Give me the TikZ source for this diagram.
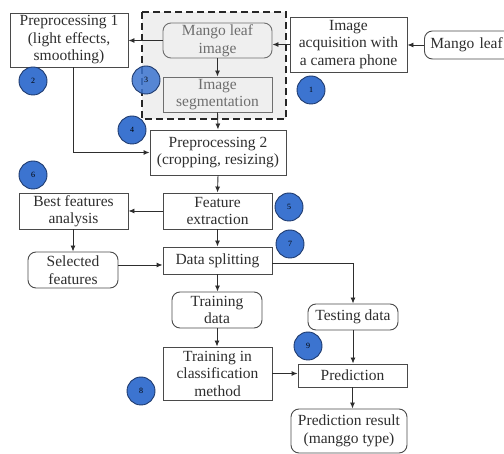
\documentclass[tikz,border=0pt]{standalone}
\usepackage{fontspec}
\setmainfont{Liberation Serif}
\usetikzlibrary{arrows.meta,calc}
\definecolor{ink}{HTML}{2E2E2E}
\definecolor{edge}{HTML}{4A4A4A}
\definecolor{dim}{HTML}{6E6E6E}
\definecolor{bluefill}{HTML}{3C74D0}
\definecolor{blueedge}{HTML}{1E3A6E}
\definecolor{bgfill}{HTML}{EFEFEF}
\tikzset{
  box/.style={draw=edge, line width=0.9pt, text=ink, align=center, inner sep=1pt,
    font=\rmfamily\fontsize{15.5}{17.5}\selectfont},
  rbox/.style={box, rounded corners=8pt},
  gbox/.style={box, draw=dim, text=dim},
  arr/.style={draw=ink, line width=0.9pt, -{Latex[length=6pt,width=5pt]}},
  badge/.style={circle, draw=blueedge, fill=bluefill, line width=0.9pt, minimum size=28pt,
    inner sep=0pt, text=black, font=\rmfamily\fontsize{8}{8}\selectfont}
}
\begin{document}
\begin{tikzpicture}[x=1pt,y=-1pt]
\useasboundingbox (0,0) rectangle (504,454);
% dashed segmentation region
\draw[fill=bgfill, dash pattern=on 7pt off 4pt, line width=1.1pt, draw=black!85] (142,12) rectangle (286,119);
% nodes
\node[box, minimum width=118pt, minimum height=54pt] (pre1) at (69,40) {Preprocessing 1\\(light effects,\\smoothing)};
\node[gbox, rounded corners=8pt, fill=bgfill, minimum width=109pt, minimum height=35pt] (mli) at (217.5,40.5) {Mango leaf\\image};
\node[gbox, fill=bgfill, minimum width=109pt, minimum height=35pt] (seg) at (217.5,94.5) {Image\\segmentation};
\node[box, fill=white, minimum width=117pt, minimum height=55pt] (acq) at (348.5,44.5) {Image\\acquisition with\\a camera phone};
\node[rbox, anchor=west, minimum width=95pt, minimum height=28pt, text width=90pt, align=left, inner xsep=6pt] (leaf) at (424,45) {Mango leaf};
\node[box, minimum width=136pt, minimum height=45pt] (pre2) at (218,152.5) {Preprocessing 2\\(cropping, resizing)};
\node[box, minimum width=109pt, minimum height=36pt] (best) at (73.5,211) {Best features\\analysis};
\node[box, minimum width=109pt, minimum height=36pt] (fext) at (217.5,211) {Feature\\extraction};
\node[rbox, minimum width=90pt, minimum height=36pt] (sel) at (73,270) {Selected\\features};
\node[box, minimum width=109pt, minimum height=27pt] (split) at (217.5,260.5) {Data splitting};
\node[rbox, minimum width=90pt, minimum height=36pt] (tdata) at (217,310) {Training\\data};
\node[rbox, minimum width=90pt, minimum height=26pt] (test) at (353,317) {Testing data};
\node[box, minimum width=109pt, minimum height=53pt] (tclf) at (217.5,373.5) {Training in\\classification\\method};
\node[box, minimum width=109pt, minimum height=23pt] (pred) at (352.5,375.5) {Prediction};
\node[rbox, minimum width=116pt, minimum height=44pt] (res) at (349,431) {Prediction result\\(manggo type)};
% connectors
\coordinate (h1) at (0,265);
\coordinate (p1x) at (73,0);
\draw[arr] (leaf.west) -- (leaf.west -| acq.east);
\draw[arr] (acq.west) -- (acq.west -| mli.east);
\draw[arr] (mli.west) -- (mli.west -| pre1.east);
\draw[arr] (mli.south) -- (seg.north);
\draw[arr] (seg.south) -- (pre2.north);
\draw[arr] (pre1.south -| p1x) |- (pre2.west);
\draw[arr] (pre2.south) -- (fext.north);
\draw[arr] (fext.west) -- (best.east);
\draw[arr] (best.south -| p1x) -- (sel.north -| p1x);
\draw[arr] (sel.east |- h1) -- (split.west |- h1);
\draw[arr] (fext.south) -- (split.north);
\draw[arr] (split.south) -- (tdata.north -| split.south);
\draw[arr] (tdata.south) -- (tclf.north -| tdata.south);
\draw[arr] ([yshift=-2.5pt]split.east) -| (test.north);
\draw[arr] (tclf.east) -- (tclf.east -| pred.west);
\draw[arr] (test.south) -- (test.south |- pred.north);
\draw[arr] (pred.south) -- (pred.south |- res.north);
% badges
\node[badge] (b1) at (311,90) {1};
\node[badge] (b2) at (33,81) {2};
\node[badge, fill opacity=0.85, text opacity=1] (b3) at (146,80) {3};
\node[badge] (b4) at (132,130) {4};
\node[badge] (b5) at (289,207) {5};
\node[badge] (b6) at (33,175) {6};
\node[badge] (b7) at (290,244) {7};
\node[badge] (b8) at (141,391) {8};
\node[badge] (b9) at (308,346) {9};
\end{tikzpicture}
\end{document}
